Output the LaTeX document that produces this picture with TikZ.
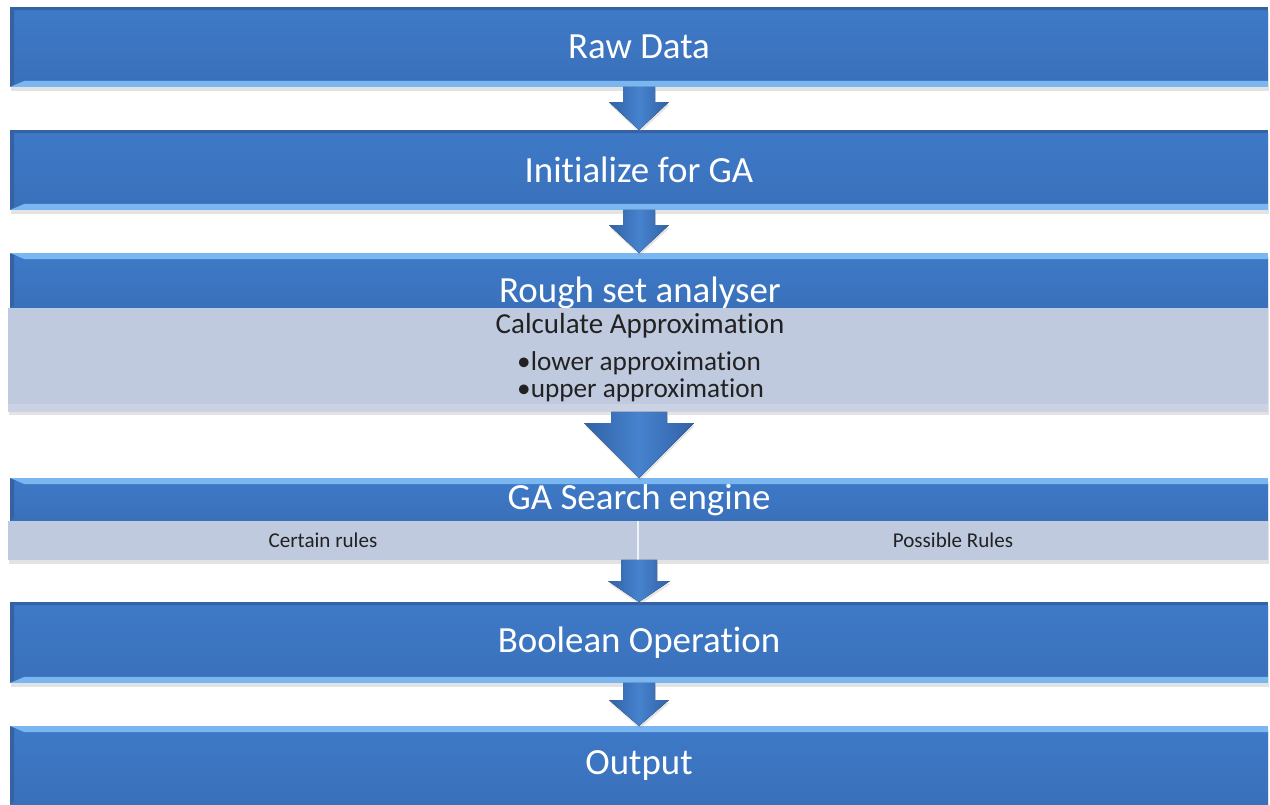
\documentclass[tikz,border=0pt]{standalone}
\usepackage{fontspec}
\setmainfont{Carlito}[RawFeature={-liga;-clig;-calt;-dlig}]
\usetikzlibrary{positioning,calc,shadows}

\definecolor{stepblue}{RGB}{68,134,214}
\definecolor{steptop}{RGB}{62,122,200}
\definecolor{stepbot}{RGB}{58,112,186}
\definecolor{stepdark}{RGB}{52,98,162}
\definecolor{steplight}{RGB}{122,182,240}
\definecolor{panelgray}{RGB}{192,202,223}
\definecolor{panellight}{RGB}{203,210,227}
\definecolor{paneltext}{RGB}{34,34,34}
\definecolor{arrowside}{RGB}{50,98,166}
\definecolor{arrowmid}{RGB}{70,130,206}

\tikzset{
        stage/.style={rectangle, outer sep=0pt, inner sep=0pt,
          minimum width=25.16cm, minimum height=1.6cm,
          top color=steptop, middle color=stepblue, bottom color=stepbot,
          drop shadow={opacity=0.22, shadow xshift=0.5pt, shadow yshift=-2pt},
          text=white, font=\fontsize{21}{25}\selectfont},
        panel/.style={rectangle, outer sep=0pt, inner sep=0pt,
          fill=panelgray, text=paneltext,
          drop shadow={opacity=0.22, shadow xshift=0.5pt, shadow yshift=-2pt}},
        paneltitle/.style={text=paneltext, font=\fontsize{16.5}{20}\selectfont},
        panelitem/.style={text=paneltext, font=\fontsize{15.5}{19}\selectfont},
        rulelabel/.style={font=\fontsize{12}{14}\selectfont},
        flowarrow/.style={left color=arrowside, right color=arrowside, middle color=arrowmid,
          drop shadow={opacity=0.2, shadow xshift=0.5pt, shadow yshift=-1.5pt}},
}

% bevel of a stage: dark top and left edge, light strip below (or above)
\newcommand{\stagebevel}[2]{
  \fill[stepdark] (#1.north west) -- (#1.north east) -- ++(0,3) -- ($(#1.north west)+(4,3)$) -- cycle;
  \fill[stepdark] (#1.north west) -- ++(4,3) -- ($(#1.south west)+(4,-3)$) -- (#1.south west) -- cycle;
  \ifx#2b
    \fill[steplight] (#1.south west) -- (#1.south east) -- ++(0,-6) -- ($(#1.south west)+(14,-6)$) -- cycle;
  \else
    \fill[steplight] (#1.north west) -- (#1.north east) -- ++(0,6) -- ($(#1.north west)+(14,6)$) -- cycle;
  \fi
}

% block arrow from #1 down to the tip #2: shaft half width, head half width, head length
\newcommand{\blockarrow}[5]{
  \fill[flowarrow] ($(#1)+(-#3,0)$) -- ($(#1)+(#3,0)$) -- ($(#2)+(#3,-#5)$) -- ($(#2)+(#4,-#5)$)
    -- (#2) -- ($(#2)+(-#4,-#5)$) -- ($(#2)+(-#3,-#5)$) -- cycle;
}

\begin{document}
\begin{tikzpicture}[x=0.02cm,y=-0.02cm]
\useasboundingbox[fill=white] (0,0) rectangle (1270,804);

\node[stage] (raw) at (639,47) {Raw Data};
\stagebevel{raw}{b}
\node[stage] (init) at (639,170) {Initialize for GA};
\stagebevel{init}{b}

% rough set analyser with its grey panel
\node[stage, minimum height=1.1cm, anchor=north] (rough) at (639,253) {};
\stagebevel{rough}{n}
\node[text=white, font=\fontsize{21}{25}\selectfont, anchor=base] (roughtitle) at (640,302) {Rough set analyser};
\node[panel, minimum width=25.2cm, minimum height=2.08cm, anchor=north] (approx) at (638,308) {};
\fill[panellight] ($(approx.south west)+(0,-8)$) rectangle (approx.south east);
\node[paneltitle] (calcapprox) at (640,326) {Calculate Approximation};
\node[panelitem, anchor=west] (lower) at (511,363) {•lower approximation};
\node[panelitem, anchor=west] (upper) at (511,390) {•upper approximation};

% GA search engine and the two rule sets
\node[stage, minimum height=0.86cm] (ga) at (639,499.5) {GA Search engine};
\stagebevel{ga}{n}
\node[panel, rulelabel, minimum width=12.6cm, minimum height=0.78cm, anchor=north west] (certain) at (8,521) {Certain rules};
\node[panel, rulelabel, minimum width=12.6cm, minimum height=0.78cm, anchor=north west] (possible) at (638,521) {Possible Rules};
\draw[white!75!panelgray, line width=1pt] (possible.north west) -- (possible.south west);

\node[stage, minimum height=1.62cm] (bool) at (639,642.5) {Boolean Operation};
\stagebevel{bool}{b}
\node[stage, minimum height=1.56cm] (out) at (639,765) {Output};
\stagebevel{out}{n}

% arrows between the stages
\blockarrow{raw.south}{init.north}{16}{30}{28}
\blockarrow{init.south}{rough.north}{16}{30}{28}
\blockarrow{ga.north |- approx.south}{ga.north}{28}{55}{55}
\blockarrow{bool.north |- certain.south}{bool.north}{18}{31}{21}
\blockarrow{bool.south}{out.north}{16}{30}{26}

\end{tikzpicture}
\end{document}
